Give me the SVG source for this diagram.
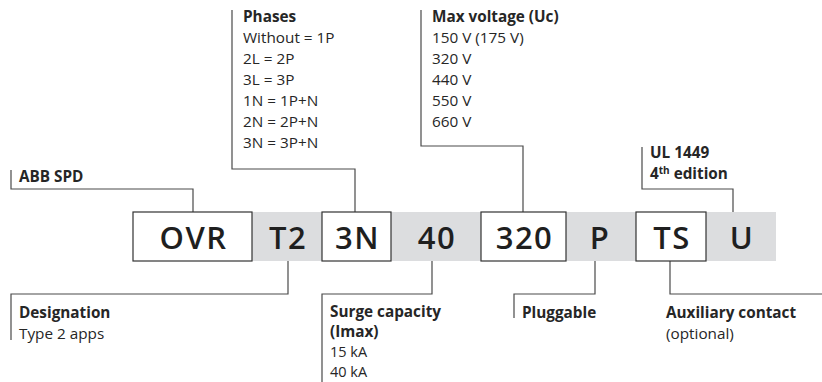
<svg xmlns="http://www.w3.org/2000/svg" width="822" height="382" viewBox="0 0 822 382">
<style>
.lbl{font-family:"Open Sans","Liberation Sans",sans-serif;font-size:15.3px;fill:#262626}
.b{font-weight:bold}
.sm{font-size:14.5px}
.code{font-family:"Open Sans","Liberation Sans",sans-serif;font-size:31px;font-weight:600;letter-spacing:1.5px;fill:#1f1f1f;text-anchor:middle}
.box{fill:#fff;stroke:#333;stroke-width:1.2}
.conn{fill:none;stroke:#4a4a4a;stroke-width:1.2}
</style>
<rect x="133" y="212" width="643" height="49" fill="#dcdddf"/>
<g id="connectors">
<polyline class="conn" points="11,170 11,189 193,189 193,212"/>
<polyline class="conn" points="232,10 232,169 355,169 355,212"/>
<polyline class="conn" points="421,10 421,146 523,146 523,212"/>
<polyline class="conn" points="642,147 642,189 733,189 733,212"/>
<polyline class="conn" points="11,340 11,294 288,294 288,261"/>
<polyline class="conn" points="322,382 322,294 432,294 432,261"/>
<polyline class="conn" points="514,318 514,294 595,294 595,261"/>
<polyline class="conn" points="822,294 670,294 670,261"/>
</g>
<g id="OVR"><rect class="box" x="133" y="212" width="119" height="49"/><text class="code" x="193.5" y="249">OVR</text></g>
<g id="T2"><text class="code" x="288" y="249">T2</text></g>
<g id="N3"><rect class="box" x="322" y="212" width="69" height="49"/><text class="code" x="357.5" y="249">3N</text></g>
<g id="V40"><text class="code" x="437" y="249">40</text></g>
<g id="V320"><rect class="box" x="481" y="212" width="85" height="49"/><text class="code" x="524.5" y="249">320</text></g>
<g id="P"><text class="code" x="600" y="249">P</text></g>
<g id="TS"><rect class="box" x="636" y="212" width="70" height="49"/><text class="code" x="672" y="249">TS</text></g>
<g id="U"><text class="code" x="742" y="249">U</text></g>
<g id="abb"><text class="lbl b" x="19" y="182">ABB SPD</text></g>
<g id="phases">
<text class="lbl b" x="243" y="22">Phases</text>
<text class="lbl" x="243" y="43">Without = 1P</text>
<text class="lbl" x="243" y="64">2L = 2P</text>
<text class="lbl" x="243" y="85">3L = 3P</text>
<text class="lbl" x="243" y="106">1N = 1P+N</text>
<text class="lbl" x="243" y="127">2N = 2P+N</text>
<text class="lbl" x="243" y="148">3N = 3P+N</text>
</g>
<g id="maxv">
<text class="lbl b" x="432" y="22">Max voltage (Uc)</text>
<text class="lbl" x="432" y="43">150 V (175 V)</text>
<text class="lbl" x="432" y="64">320 V</text>
<text class="lbl" x="432" y="85">440 V</text>
<text class="lbl" x="432" y="106">550 V</text>
<text class="lbl" x="432" y="127">660 V</text>
</g>
<g id="ul">
<text class="lbl b" x="650" y="158">UL 1449</text>
<text class="lbl b" x="650" y="179">4<tspan font-size="10" dy="-5">th</tspan><tspan dy="5"> edition</tspan></text>
</g>
<g id="designation">
<text class="lbl b" x="19" y="318">Designation</text>
<text class="lbl" x="19" y="339">Type 2 apps</text>
</g>
<g id="surge">
<text class="lbl b" x="330" y="317">Surge capacity</text>
<text class="lbl b" x="330" y="337">(Imax)</text>
<text class="lbl sm" x="330" y="357">15 kA</text>
<text class="lbl sm" x="330" y="377">40 kA</text>
</g>
<g id="pluggable"><text class="lbl b" x="522" y="318">Pluggable</text></g>
<g id="aux">
<text class="lbl b" x="666" y="318">Auxiliary contact</text>
<text class="lbl" x="666" y="339">(optional)</text>
</g>
</svg>
